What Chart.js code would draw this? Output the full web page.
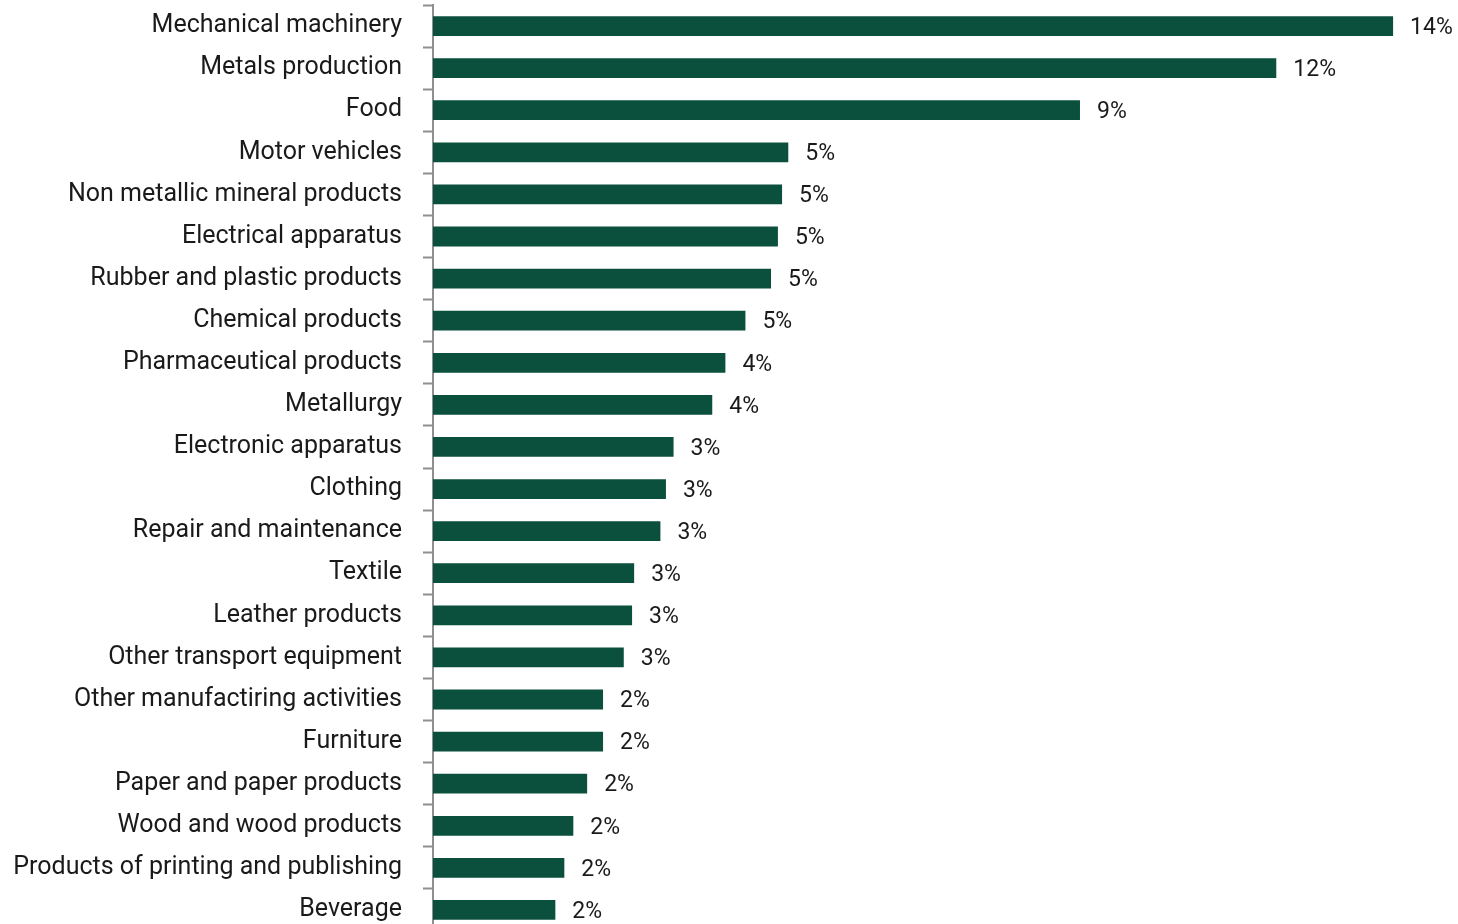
<!DOCTYPE html>
<html>
<head>
<meta charset="utf-8">
<script src="https://cdn.jsdelivr.net/npm/chart.js@4.4.1/dist/chart.umd.min.js"></script>
<style>
  html, body { margin: 0; padding: 0; background: #ffffff; overflow: hidden; }
</style>
</head>
<body>
<canvas id="myChart" width="1458" height="931"></canvas>
<script>
// categorias e valores (%)
var sectors = [
    "Mechanical machinery", "Metals production", "Food", "Motor vehicles",
    "Non metallic mineral products", "Electrical apparatus", "Rubber and plastic products",
    "Chemical products", "Pharmaceutical products", "Metallurgy", "Electronic apparatus",
    "Clothing", "Repair and maintenance", "Textile", "Leather products",
    "Other transport equipment", "Other manufactiring activities", "Furniture",
    "Paper and paper products", "Wood and wood products", "Products of printing and publishing",
    "Beverage"
];
var shares = [13.89, 12.2, 9.36, 5.14, 5.05, 4.99, 4.89, 4.52, 4.23, 4.04, 3.48,
    3.37, 3.29, 2.91, 2.88, 2.76, 2.46, 2.46, 2.23, 2.03, 1.9, 1.77];

var ctx = document.getElementById('myChart').getContext('2d');
var FONT = 'Roboto, "Open Sans", sans-serif';

// rótulos no fim das barras
var barLabels = {
    id: 'barLabels',
    afterDatasetsDraw: function (chart) {
        var c = chart.ctx;
        var meta = chart.getDatasetMeta(0);
        c.save();
        c.font = '23px ' + FONT;
        c.fillStyle = '#1a1a1a';
        c.textAlign = 'left';
        c.textBaseline = 'middle';
        meta.data.forEach(function (bar, i) {
            c.fillText(Math.round(shares[i]) + '%', bar.x + 17, bar.y + 2);
        });
        c.restore();
    }
};

var chart = new Chart(ctx, {
    type: 'bar',
    data: {
        labels: sectors,
        datasets: [{
            data: shares,
            backgroundColor: '#0b4f3d',
            categoryPercentage: 1,
            barPercentage: 0.47
        }]
    },
    options: {
        indexAxis: 'y',
        responsive: false,
        animation: false,
        layout: { padding: { top: 5, right: 2, bottom: 0, left: 0 } },
        plugins: {
            legend: { display: false },
            tooltip: { enabled: false }
        },
        scales: {
            x: { display: false, min: 0, max: 14.8 },
            y: {
                afterFit: function (scale) {
                    scale.width = 433;
                    scale.paddingTop = 0;
                    scale.paddingBottom = 0;
                },
                border: { color: '#8f8f8f', width: 2 },
                grid: {
                    drawOnChartArea: false,
                    tickLength: 10,
                    tickWidth: 2,
                    tickColor: '#8f8f8f'
                },
                ticks: {
                    padding: 21,
                    color: '#1a1a1a',
                    font: { family: FONT, size: 25 }
                }
            }
        }
    },
    plugins: [barLabels]
});
</script>
</body>
</html>
